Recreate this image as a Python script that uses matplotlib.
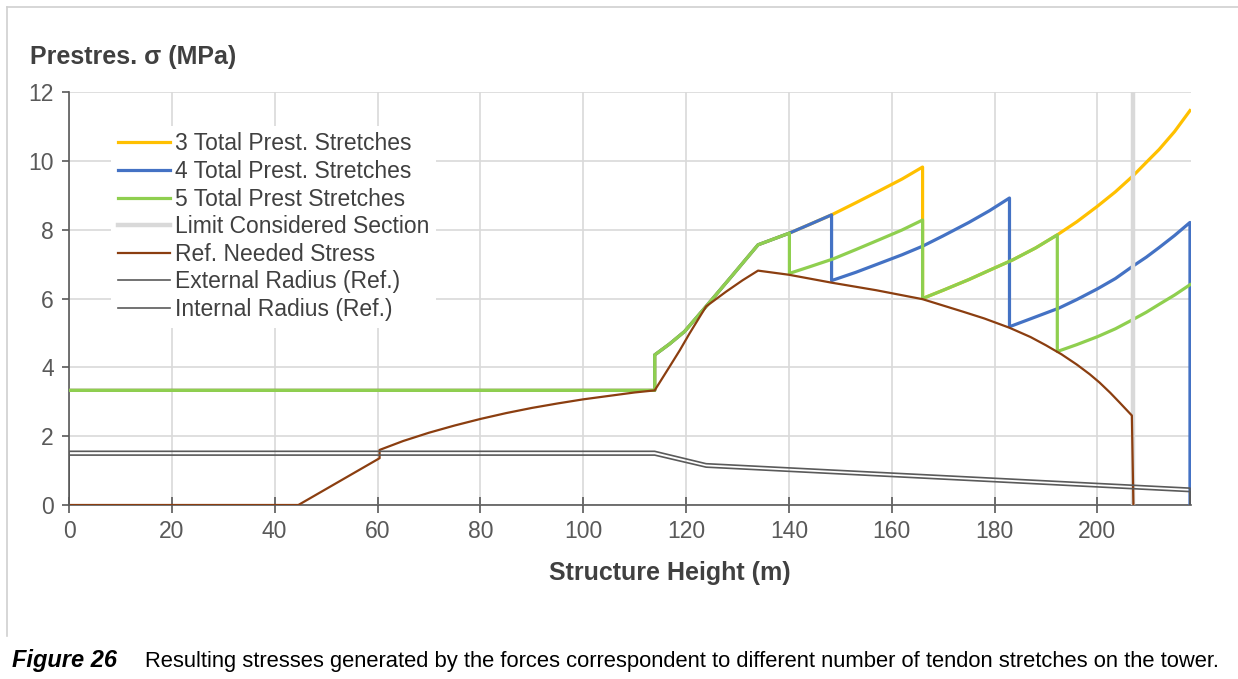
#Prestress stresses along tower height for different number of tendon stretches.

import matplotlib.pyplot as plt
from matplotlib.lines import Line2D

plt.rcParams["font.family"] = ["Liberation Sans", "DejaVu Sans"]

# 3 total prestress stretches
yellow_x = [0, 113.9, 113.9, 116.8, 119.7, 123.9, 129.0, 134.0, 140.1, 144.0, 148.3,
            153.0, 157.6, 162.0, 166.0, 166.0, 170.0, 175.0, 179.0, 183.5, 188.0, 192.2,
            196.0, 200.0, 203.5, 206.9, 210.0, 212.0, 215.0, 218.0]
yellow_y = [3.33, 3.33, 4.36, 4.68, 5.04, 5.77, 6.67, 7.56, 7.90, 8.15, 8.43,
            8.78, 9.13, 9.47, 9.82, 6.00, 6.24, 6.55, 6.82, 7.12, 7.47, 7.85,
            8.23, 8.68, 9.10, 9.56, 10.03, 10.33, 10.85, 11.46]

# 4 total prestress stretches
blue_x = [0, 113.9, 113.9, 116.8, 119.7, 123.9, 129.0, 134.0, 140.1, 144.0, 148.3,
          148.3, 153.0, 157.6, 162.0, 166.0, 170.0, 175.0, 179.0, 182.9,
          182.9, 187.0, 192.5, 196.0, 200.0, 203.5, 206.8, 209.5, 212.0, 215.0, 218.0, 218.0]
blue_y = [3.33, 3.33, 4.36, 4.68, 5.04, 5.77, 6.67, 7.56, 7.90, 8.15, 8.43,
          6.52, 6.76, 7.02, 7.27, 7.52, 7.82, 8.21, 8.55, 8.92,
          5.18, 5.41, 5.72, 5.97, 6.28, 6.58, 6.93, 7.20, 7.48, 7.83, 8.21, 0.0]

# 5 total prestress stretches
green_x = [0, 113.9, 113.9, 116.8, 119.7, 123.9, 129.0, 134.0, 140.1,
           140.1, 144.0, 148.6, 153.0, 157.6, 162.0, 166.0,
           166.0, 170.0, 175.0, 179.0, 183.5, 188.0, 192.2,
           192.2, 196.0, 200.0, 203.5, 206.8, 209.5, 212.0, 215.0, 218.0]
green_y = [3.33, 3.33, 4.36, 4.68, 5.04, 5.77, 6.67, 7.56, 7.90,
           6.73, 6.92, 7.15, 7.42, 7.71, 7.99, 8.28,
           6.00, 6.24, 6.55, 6.82, 7.12, 7.47, 7.85,
           4.46, 4.66, 4.89, 5.12, 5.38, 5.60, 5.83, 6.10, 6.40]

# limit considered section
limit_x = [207.0, 207.0]
limit_y = [0, 12]

# reference needed stress
brown_x = [0, 44.6, 60.4, 60.4, 65, 70, 75, 80, 85, 90, 95, 100, 105, 110, 113.9,
           116.8, 118.8, 120.7, 123.9, 127.8, 131.0, 134.0, 140.0, 148.3, 157.0, 166.0,
           173.8, 178.0, 182.9, 187.0, 190.0, 193.0, 196.0, 198.5, 200.4, 202.5, 204.3,
           206.7, 207.0]
brown_y = [0, 0, 1.36, 1.60, 1.86, 2.10, 2.31, 2.50, 2.67, 2.82, 2.95, 3.07, 3.17, 3.27, 3.33,
           4.02, 4.50, 4.99, 5.77, 6.20, 6.53, 6.81, 6.69, 6.46, 6.24, 5.98,
           5.62, 5.42, 5.15, 4.88, 4.64, 4.38, 4.08, 3.80, 3.56, 3.26, 2.98,
           2.60, 0.0]

# radii (reference)
ext_x = [0, 0, 113.9, 123.9, 218.0, 218.0]
ext_y = [0, 1.56, 1.56, 1.20, 0.49, 0]
int_x = [0, 0, 113.9, 123.9, 218.0, 218.0]
int_y = [0, 1.45, 1.45, 1.10, 0.39, 0]

labels = ["3 Total Prest. Stretches", "4 Total Prest. Stretches", "5 Total Prest Stretches",
          "Limit Considered Section", "Ref. Needed Stress", "External Radius (Ref.)",
          "Internal Radius (Ref.)"]
colors = ["#FFC000", "#4472C4", "#8FCF4F", "#D9D9D9", "#8B3E10", "#5A5A5A", "#5A5A5A"]
widths = [2.3, 2.3, 2.3, 3.2, 1.6, 1.2, 1.2]

TEXT = "#404040"
AXC = "#595959"
W, H = 1238, 679

fig = plt.figure(figsize=(W / 100, H / 100), dpi=100)

# page frame lines (left / top)
fig.add_artist(Line2D([7 / W, 7 / W], [1 - 636 / H, 1 - 7 / H],
                      transform=fig.transFigure, color="#D0D0D0", lw=1.2))
fig.add_artist(Line2D([7 / W, 1.0], [1 - 7 / H, 1 - 7 / H],
                      transform=fig.transFigure, color="#D0D0D0", lw=1.2))

ax = fig.add_axes([69 / W, 1 - 505 / H, (1191 - 69) / W, (505 - 92) / H])

series = [(yellow_x, yellow_y), (blue_x, blue_y), (green_x, green_y), (limit_x, limit_y),
          (brown_x, brown_y), (ext_x, ext_y), (int_x, int_y)]
for (xs, ys), lab, c, w in zip(series, labels, colors, widths):
    ax.plot(xs, ys, color=c, lw=w, label=lab, solid_joinstyle="round", zorder=3)

ax.set_xlim(0, 218.2)
ax.set_ylim(0, 12)
ax.set_xticks(range(0, 201, 20))
ax.set_yticks(range(0, 13, 2))
ax.grid(True, color="#D9D9D9", lw=1.2)
ax.set_axisbelow(True)

for side in ["top", "right"]:
    ax.spines[side].set_visible(False)
for side in ["left", "bottom"]:
    ax.spines[side].set_color(AXC)
    ax.spines[side].set_linewidth(1.2)
ax.tick_params(axis="y", direction="out", length=5, width=1.2, color=AXC,
               labelcolor=AXC, labelsize=16.5, pad=6)
ax.tick_params(axis="x", direction="inout", length=11, width=1.2, color=AXC,
               labelcolor=AXC, labelsize=16.5, pad=5)

fig.text(670 / W, 1 - 573 / H, "Structure Height (m)", fontsize=18, fontweight="bold",
         color=TEXT, va="center", ha="center")
fig.text(30 / W, 1 - 57 / H, "Prestres. σ (MPa)", fontsize=18, fontweight="bold",
         color=TEXT, va="center", ha="left")

leg = ax.legend(loc="upper left", bbox_to_anchor=(0.0374, 0.9187), frameon=True,
                fontsize=16.5, handlelength=2.27, handletextpad=0.22, labelspacing=0.2,
                borderpad=0.3, borderaxespad=0)
leg.get_frame().set_facecolor("white")
leg.get_frame().set_edgecolor("none")
leg.get_frame().set_alpha(1)
for t in leg.get_texts():
    t.set_color(TEXT)

fig.text(12 / W, 1 - 661 / H, "Figure 26", fontsize=17, fontweight="bold",
         fontstyle="italic", color="black", va="center", ha="left")
fig.text(145 / W, 1 - 661 / H,
         "Resulting stresses generated by the forces correspondent to different number "
         "of tendon stretches on the tower.",
         fontsize=15.8, color="black", va="center", ha="left")

fig.savefig("out.png", dpi=100)
